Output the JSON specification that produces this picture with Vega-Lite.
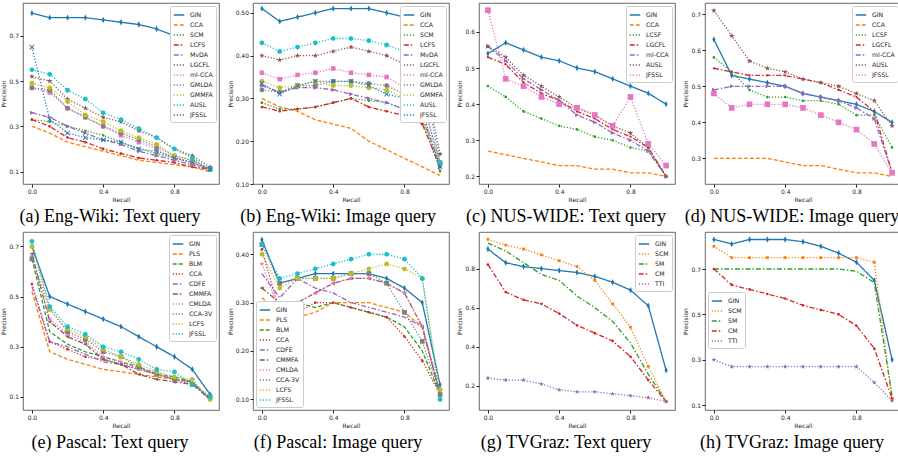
{
"$schema":"https://vega.github.io/schema/vega-lite/v6.json",
"padding":{"left":0,"right":2,"top":2,"bottom":2},
"background":"white",
"columns":4,
"spacing":{"row":5,"column":6},
"resolve":{"scale":{"x":"independent","y":"independent","color":"independent","strokeDash":"independent","shape":"independent","fill":"independent"},"legend":{"color":"independent","strokeDash":"independent"}},
"datasets":{
"a":[
{"s":"GIN","r":0,"p":0.80},{"s":"GIN","r":0.1,"p":0.78},{"s":"GIN","r":0.2,"p":0.78},{"s":"GIN","r":0.3,"p":0.78},{"s":"GIN","r":0.4,"p":0.77},{"s":"GIN","r":0.5,"p":0.76},{"s":"GIN","r":0.6,"p":0.75},{"s":"GIN","r":0.7,"p":0.73},{"s":"GIN","r":0.8,"p":0.70},{"s":"GIN","r":0.9,"p":0.65},{"s":"GIN","r":1,"p":0.38},
{"s":"CCA","r":0,"p":0.30},{"s":"CCA","r":0.1,"p":0.27},{"s":"CCA","r":0.2,"p":0.23},{"s":"CCA","r":0.3,"p":0.21},{"s":"CCA","r":0.4,"p":0.19},{"s":"CCA","r":0.5,"p":0.17},{"s":"CCA","r":0.6,"p":0.15},{"s":"CCA","r":0.7,"p":0.14},{"s":"CCA","r":0.8,"p":0.13},{"s":"CCA","r":0.9,"p":0.12},{"s":"CCA","r":1,"p":0.10},
{"s":"SCM","r":0,"p":0.33},{"s":"SCM","r":0.1,"p":0.32},{"s":"SCM","r":0.2,"p":0.30},{"s":"SCM","r":0.3,"p":0.28},{"s":"SCM","r":0.4,"p":0.26},{"s":"SCM","r":0.5,"p":0.23},{"s":"SCM","r":0.6,"p":0.20},{"s":"SCM","r":0.7,"p":0.18},{"s":"SCM","r":0.8,"p":0.16},{"s":"SCM","r":0.9,"p":0.14},{"s":"SCM","r":1,"p":0.11},
{"s":"LCFS","r":0,"p":0.33},{"s":"LCFS","r":0.1,"p":0.30},{"s":"LCFS","r":0.2,"p":0.25},{"s":"LCFS","r":0.3,"p":0.23},{"s":"LCFS","r":0.4,"p":0.20},{"s":"LCFS","r":0.5,"p":0.18},{"s":"LCFS","r":0.6,"p":0.16},{"s":"LCFS","r":0.7,"p":0.15},{"s":"LCFS","r":0.8,"p":0.14},{"s":"LCFS","r":0.9,"p":0.12},{"s":"LCFS","r":1,"p":0.11},
{"s":"MvDA","r":0,"p":0.36},{"s":"MvDA","r":0.1,"p":0.34},{"s":"MvDA","r":0.2,"p":0.30},{"s":"MvDA","r":0.3,"p":0.27},{"s":"MvDA","r":0.4,"p":0.24},{"s":"MvDA","r":0.5,"p":0.22},{"s":"MvDA","r":0.6,"p":0.19},{"s":"MvDA","r":0.7,"p":0.17},{"s":"MvDA","r":0.8,"p":0.15},{"s":"MvDA","r":0.9,"p":0.13},{"s":"MvDA","r":1,"p":0.11},
{"s":"LGCFL","r":0,"p":0.52},{"s":"LGCFL","r":0.1,"p":0.50},{"s":"LGCFL","r":0.2,"p":0.42},{"s":"LGCFL","r":0.3,"p":0.38},{"s":"LGCFL","r":0.4,"p":0.34},{"s":"LGCFL","r":0.5,"p":0.32},{"s":"LGCFL","r":0.6,"p":0.28},{"s":"LGCFL","r":0.7,"p":0.25},{"s":"LGCFL","r":0.8,"p":0.20},{"s":"LGCFL","r":0.9,"p":0.17},{"s":"LGCFL","r":1,"p":0.12},
{"s":"ml-CCA","r":0,"p":0.47},{"s":"ml-CCA","r":0.1,"p":0.45},{"s":"ml-CCA","r":0.2,"p":0.38},{"s":"ml-CCA","r":0.3,"p":0.34},{"s":"ml-CCA","r":0.4,"p":0.30},{"s":"ml-CCA","r":0.5,"p":0.26},{"s":"ml-CCA","r":0.6,"p":0.23},{"s":"ml-CCA","r":0.7,"p":0.20},{"s":"ml-CCA","r":0.8,"p":0.16},{"s":"ml-CCA","r":0.9,"p":0.14},{"s":"ml-CCA","r":1,"p":0.11},
{"s":"GMLDA","r":0,"p":0.47},{"s":"GMLDA","r":0.1,"p":0.46},{"s":"GMLDA","r":0.2,"p":0.38},{"s":"GMLDA","r":0.3,"p":0.34},{"s":"GMLDA","r":0.4,"p":0.30},{"s":"GMLDA","r":0.5,"p":0.27},{"s":"GMLDA","r":0.6,"p":0.24},{"s":"GMLDA","r":0.7,"p":0.21},{"s":"GMLDA","r":0.8,"p":0.17},{"s":"GMLDA","r":0.9,"p":0.15},{"s":"GMLDA","r":1,"p":0.11},
{"s":"GMMFA","r":0,"p":0.49},{"s":"GMMFA","r":0.1,"p":0.47},{"s":"GMMFA","r":0.2,"p":0.41},{"s":"GMMFA","r":0.3,"p":0.35},{"s":"GMMFA","r":0.4,"p":0.32},{"s":"GMMFA","r":0.5,"p":0.28},{"s":"GMMFA","r":0.6,"p":0.25},{"s":"GMMFA","r":0.7,"p":0.22},{"s":"GMMFA","r":0.8,"p":0.17},{"s":"GMMFA","r":0.9,"p":0.15},{"s":"GMMFA","r":1,"p":0.11},
{"s":"AUSL","r":0,"p":0.55},{"s":"AUSL","r":0.1,"p":0.53},{"s":"AUSL","r":0.2,"p":0.46},{"s":"AUSL","r":0.3,"p":0.42},{"s":"AUSL","r":0.4,"p":0.36},{"s":"AUSL","r":0.5,"p":0.33},{"s":"AUSL","r":0.6,"p":0.29},{"s":"AUSL","r":0.7,"p":0.25},{"s":"AUSL","r":0.8,"p":0.20},{"s":"AUSL","r":0.9,"p":0.16},{"s":"AUSL","r":1,"p":0.11},
{"s":"JFSSL","r":0,"p":0.65},{"s":"JFSSL","r":0.1,"p":0.33},{"s":"JFSSL","r":0.2,"p":0.27},{"s":"JFSSL","r":0.3,"p":0.25},{"s":"JFSSL","r":0.4,"p":0.24},{"s":"JFSSL","r":0.5,"p":0.23},{"s":"JFSSL","r":0.6,"p":0.20},{"s":"JFSSL","r":0.7,"p":0.19},{"s":"JFSSL","r":0.8,"p":0.16},{"s":"JFSSL","r":0.9,"p":0.14},{"s":"JFSSL","r":1,"p":0.11}
],
"b":[
{"s":"GIN","r":0,"p":0.51},{"s":"GIN","r":0.1,"p":0.48},{"s":"GIN","r":0.2,"p":0.49},{"s":"GIN","r":0.3,"p":0.50},{"s":"GIN","r":0.4,"p":0.51},{"s":"GIN","r":0.5,"p":0.51},{"s":"GIN","r":0.6,"p":0.51},{"s":"GIN","r":0.7,"p":0.50},{"s":"GIN","r":0.8,"p":0.49},{"s":"GIN","r":0.9,"p":0.47},{"s":"GIN","r":1,"p":0.33},
{"s":"CCA","r":0,"p":0.30},{"s":"CCA","r":0.1,"p":0.28},{"s":"CCA","r":0.2,"p":0.27},{"s":"CCA","r":0.3,"p":0.25},{"s":"CCA","r":0.4,"p":0.24},{"s":"CCA","r":0.5,"p":0.23},{"s":"CCA","r":0.6,"p":0.20},{"s":"CCA","r":0.7,"p":0.18},{"s":"CCA","r":0.8,"p":0.16},{"s":"CCA","r":0.9,"p":0.14},{"s":"CCA","r":1,"p":0.12},
{"s":"SCM","r":0,"p":0.29},{"s":"SCM","r":0.1,"p":0.275},{"s":"SCM","r":0.2,"p":0.275},{"s":"SCM","r":0.3,"p":0.28},{"s":"SCM","r":0.4,"p":0.29},{"s":"SCM","r":0.5,"p":0.30},{"s":"SCM","r":0.6,"p":0.295},{"s":"SCM","r":0.7,"p":0.29},{"s":"SCM","r":0.8,"p":0.275},{"s":"SCM","r":0.9,"p":0.25},{"s":"SCM","r":1,"p":0.13},
{"s":"LCFS","r":0,"p":0.28},{"s":"LCFS","r":0.1,"p":0.27},{"s":"LCFS","r":0.2,"p":0.275},{"s":"LCFS","r":0.3,"p":0.28},{"s":"LCFS","r":0.4,"p":0.29},{"s":"LCFS","r":0.5,"p":0.30},{"s":"LCFS","r":0.6,"p":0.28},{"s":"LCFS","r":0.7,"p":0.27},{"s":"LCFS","r":0.8,"p":0.26},{"s":"LCFS","r":0.9,"p":0.24},{"s":"LCFS","r":1,"p":0.14},
{"s":"MvDA","r":0,"p":0.33},{"s":"MvDA","r":0.1,"p":0.315},{"s":"MvDA","r":0.2,"p":0.325},{"s":"MvDA","r":0.3,"p":0.325},{"s":"MvDA","r":0.4,"p":0.32},{"s":"MvDA","r":0.5,"p":0.31},{"s":"MvDA","r":0.6,"p":0.30},{"s":"MvDA","r":0.7,"p":0.29},{"s":"MvDA","r":0.8,"p":0.275},{"s":"MvDA","r":0.9,"p":0.26},{"s":"MvDA","r":1,"p":0.14},
{"s":"LGCFL","r":0,"p":0.40},{"s":"LGCFL","r":0.1,"p":0.39},{"s":"LGCFL","r":0.2,"p":0.40},{"s":"LGCFL","r":0.3,"p":0.40},{"s":"LGCFL","r":0.4,"p":0.41},{"s":"LGCFL","r":0.5,"p":0.42},{"s":"LGCFL","r":0.6,"p":0.41},{"s":"LGCFL","r":0.7,"p":0.40},{"s":"LGCFL","r":0.8,"p":0.38},{"s":"LGCFL","r":0.9,"p":0.37},{"s":"LGCFL","r":1,"p":0.17},
{"s":"ml-CCA","r":0,"p":0.36},{"s":"ml-CCA","r":0.1,"p":0.345},{"s":"ml-CCA","r":0.2,"p":0.355},{"s":"ml-CCA","r":0.3,"p":0.36},{"s":"ml-CCA","r":0.4,"p":0.37},{"s":"ml-CCA","r":0.5,"p":0.36},{"s":"ml-CCA","r":0.6,"p":0.355},{"s":"ml-CCA","r":0.7,"p":0.35},{"s":"ml-CCA","r":0.8,"p":0.325},{"s":"ml-CCA","r":0.9,"p":0.30},{"s":"ml-CCA","r":1,"p":0.15},
{"s":"GMLDA","r":0,"p":0.32},{"s":"GMLDA","r":0.1,"p":0.315},{"s":"GMLDA","r":0.2,"p":0.33},{"s":"GMLDA","r":0.3,"p":0.33},{"s":"GMLDA","r":0.4,"p":0.34},{"s":"GMLDA","r":0.5,"p":0.34},{"s":"GMLDA","r":0.6,"p":0.335},{"s":"GMLDA","r":0.7,"p":0.33},{"s":"GMLDA","r":0.8,"p":0.31},{"s":"GMLDA","r":0.9,"p":0.29},{"s":"GMLDA","r":1,"p":0.15},
{"s":"GMMFA","r":0,"p":0.34},{"s":"GMMFA","r":0.1,"p":0.325},{"s":"GMMFA","r":0.2,"p":0.33},{"s":"GMMFA","r":0.3,"p":0.34},{"s":"GMMFA","r":0.4,"p":0.33},{"s":"GMMFA","r":0.5,"p":0.33},{"s":"GMMFA","r":0.6,"p":0.325},{"s":"GMMFA","r":0.7,"p":0.32},{"s":"GMMFA","r":0.8,"p":0.30},{"s":"GMMFA","r":0.9,"p":0.25},{"s":"GMMFA","r":1,"p":0.15},
{"s":"AUSL","r":0,"p":0.43},{"s":"AUSL","r":0.1,"p":0.41},{"s":"AUSL","r":0.2,"p":0.42},{"s":"AUSL","r":0.3,"p":0.43},{"s":"AUSL","r":0.4,"p":0.44},{"s":"AUSL","r":0.5,"p":0.44},{"s":"AUSL","r":0.6,"p":0.435},{"s":"AUSL","r":0.7,"p":0.425},{"s":"AUSL","r":0.8,"p":0.41},{"s":"AUSL","r":0.9,"p":0.36},{"s":"AUSL","r":1,"p":0.15},
{"s":"JFSSL","r":0,"p":0.335},{"s":"JFSSL","r":0.1,"p":0.31},{"s":"JFSSL","r":0.2,"p":0.33},{"s":"JFSSL","r":0.3,"p":0.34},{"s":"JFSSL","r":0.4,"p":0.34},{"s":"JFSSL","r":0.5,"p":0.34},{"s":"JFSSL","r":0.6,"p":0.33},{"s":"JFSSL","r":0.7,"p":0.31},{"s":"JFSSL","r":0.8,"p":0.30},{"s":"JFSSL","r":0.9,"p":0.27},{"s":"JFSSL","r":1,"p":0.14}
],
"c":[
{"s":"GIN","r":0,"p":0.54},{"s":"GIN","r":0.1,"p":0.57},{"s":"GIN","r":0.2,"p":0.55},{"s":"GIN","r":0.3,"p":0.53},{"s":"GIN","r":0.4,"p":0.52},{"s":"GIN","r":0.5,"p":0.50},{"s":"GIN","r":0.6,"p":0.49},{"s":"GIN","r":0.7,"p":0.47},{"s":"GIN","r":0.8,"p":0.45},{"s":"GIN","r":0.9,"p":0.43},{"s":"GIN","r":1,"p":0.40},
{"s":"CCA","r":0,"p":0.27},{"s":"CCA","r":0.1,"p":0.26},{"s":"CCA","r":0.2,"p":0.25},{"s":"CCA","r":0.3,"p":0.24},{"s":"CCA","r":0.4,"p":0.23},{"s":"CCA","r":0.5,"p":0.23},{"s":"CCA","r":0.6,"p":0.22},{"s":"CCA","r":0.7,"p":0.22},{"s":"CCA","r":0.8,"p":0.21},{"s":"CCA","r":0.9,"p":0.21},{"s":"CCA","r":1,"p":0.20},
{"s":"LCSF","r":0,"p":0.45},{"s":"LCSF","r":0.1,"p":0.42},{"s":"LCSF","r":0.2,"p":0.38},{"s":"LCSF","r":0.3,"p":0.36},{"s":"LCSF","r":0.4,"p":0.34},{"s":"LCSF","r":0.5,"p":0.33},{"s":"LCSF","r":0.6,"p":0.31},{"s":"LCSF","r":0.7,"p":0.30},{"s":"LCSF","r":0.8,"p":0.28},{"s":"LCSF","r":0.9,"p":0.27},{"s":"LCSF","r":1,"p":0.20},
{"s":"LGCFL","r":0,"p":0.53},{"s":"LGCFL","r":0.1,"p":0.51},{"s":"LGCFL","r":0.2,"p":0.46},{"s":"LGCFL","r":0.3,"p":0.43},{"s":"LGCFL","r":0.4,"p":0.41},{"s":"LGCFL","r":0.5,"p":0.38},{"s":"LGCFL","r":0.6,"p":0.36},{"s":"LGCFL","r":0.7,"p":0.33},{"s":"LGCFL","r":0.8,"p":0.31},{"s":"LGCFL","r":0.9,"p":0.28},{"s":"LGCFL","r":1,"p":0.20},
{"s":"ml-CCA","r":0,"p":0.56},{"s":"ml-CCA","r":0.1,"p":0.52},{"s":"ml-CCA","r":0.2,"p":0.47},{"s":"ml-CCA","r":0.3,"p":0.44},{"s":"ml-CCA","r":0.4,"p":0.41},{"s":"ml-CCA","r":0.5,"p":0.37},{"s":"ml-CCA","r":0.6,"p":0.35},{"s":"ml-CCA","r":0.7,"p":0.32},{"s":"ml-CCA","r":0.8,"p":0.30},{"s":"ml-CCA","r":0.9,"p":0.27},{"s":"ml-CCA","r":1,"p":0.20},
{"s":"AUSL","r":0,"p":0.56},{"s":"AUSL","r":0.1,"p":0.53},{"s":"AUSL","r":0.2,"p":0.48},{"s":"AUSL","r":0.3,"p":0.45},{"s":"AUSL","r":0.4,"p":0.42},{"s":"AUSL","r":0.5,"p":0.39},{"s":"AUSL","r":0.6,"p":0.37},{"s":"AUSL","r":0.7,"p":0.34},{"s":"AUSL","r":0.8,"p":0.32},{"s":"AUSL","r":0.9,"p":0.28},{"s":"AUSL","r":1,"p":0.20},
{"s":"JFSSL","r":0,"p":0.66},{"s":"JFSSL","r":0.1,"p":0.47},{"s":"JFSSL","r":0.2,"p":0.45},{"s":"JFSSL","r":0.3,"p":0.42},{"s":"JFSSL","r":0.4,"p":0.40},{"s":"JFSSL","r":0.5,"p":0.39},{"s":"JFSSL","r":0.6,"p":0.37},{"s":"JFSSL","r":0.7,"p":0.34},{"s":"JFSSL","r":0.8,"p":0.42},{"s":"JFSSL","r":0.9,"p":0.29},{"s":"JFSSL","r":1,"p":0.23}
],
"d":[
{"s":"GIN","r":0,"p":0.63},{"s":"GIN","r":0.1,"p":0.53},{"s":"GIN","r":0.2,"p":0.52},{"s":"GIN","r":0.3,"p":0.51},{"s":"GIN","r":0.4,"p":0.50},{"s":"GIN","r":0.5,"p":0.48},{"s":"GIN","r":0.6,"p":0.47},{"s":"GIN","r":0.7,"p":0.46},{"s":"GIN","r":0.8,"p":0.45},{"s":"GIN","r":0.9,"p":0.43},{"s":"GIN","r":1,"p":0.40},
{"s":"CCA","r":0,"p":0.30},{"s":"CCA","r":0.1,"p":0.30},{"s":"CCA","r":0.2,"p":0.30},{"s":"CCA","r":0.3,"p":0.30},{"s":"CCA","r":0.4,"p":0.29},{"s":"CCA","r":0.5,"p":0.28},{"s":"CCA","r":0.6,"p":0.28},{"s":"CCA","r":0.7,"p":0.27},{"s":"CCA","r":0.8,"p":0.26},{"s":"CCA","r":0.9,"p":0.26},{"s":"CCA","r":1,"p":0.25},
{"s":"LCSF","r":0,"p":0.58},{"s":"LCSF","r":0.1,"p":0.54},{"s":"LCSF","r":0.2,"p":0.49},{"s":"LCSF","r":0.3,"p":0.47},{"s":"LCSF","r":0.4,"p":0.47},{"s":"LCSF","r":0.5,"p":0.46},{"s":"LCSF","r":0.6,"p":0.46},{"s":"LCSF","r":0.7,"p":0.45},{"s":"LCSF","r":0.8,"p":0.42},{"s":"LCSF","r":0.9,"p":0.42},{"s":"LCSF","r":1,"p":0.33},
{"s":"LGCFL","r":0,"p":0.55},{"s":"LGCFL","r":0.1,"p":0.54},{"s":"LGCFL","r":0.2,"p":0.53},{"s":"LGCFL","r":0.3,"p":0.53},{"s":"LGCFL","r":0.4,"p":0.53},{"s":"LGCFL","r":0.5,"p":0.52},{"s":"LGCFL","r":0.6,"p":0.51},{"s":"LGCFL","r":0.7,"p":0.49},{"s":"LGCFL","r":0.8,"p":0.47},{"s":"LGCFL","r":0.9,"p":0.43},{"s":"LGCFL","r":1,"p":0.26},
{"s":"ml-CCA","r":0,"p":0.49},{"s":"ml-CCA","r":0.1,"p":0.50},{"s":"ml-CCA","r":0.2,"p":0.50},{"s":"ml-CCA","r":0.3,"p":0.50},{"s":"ml-CCA","r":0.4,"p":0.50},{"s":"ml-CCA","r":0.5,"p":0.48},{"s":"ml-CCA","r":0.6,"p":0.47},{"s":"ml-CCA","r":0.7,"p":0.46},{"s":"ml-CCA","r":0.8,"p":0.44},{"s":"ml-CCA","r":0.9,"p":0.41},{"s":"ml-CCA","r":1,"p":0.26},
{"s":"AUSL","r":0,"p":0.71},{"s":"AUSL","r":0.1,"p":0.64},{"s":"AUSL","r":0.2,"p":0.57},{"s":"AUSL","r":0.3,"p":0.55},{"s":"AUSL","r":0.4,"p":0.54},{"s":"AUSL","r":0.5,"p":0.52},{"s":"AUSL","r":0.6,"p":0.51},{"s":"AUSL","r":0.7,"p":0.50},{"s":"AUSL","r":0.8,"p":0.48},{"s":"AUSL","r":0.9,"p":0.46},{"s":"AUSL","r":1,"p":0.39},
{"s":"JFSSL","r":0,"p":0.48},{"s":"JFSSL","r":0.1,"p":0.44},{"s":"JFSSL","r":0.2,"p":0.45},{"s":"JFSSL","r":0.3,"p":0.45},{"s":"JFSSL","r":0.4,"p":0.45},{"s":"JFSSL","r":0.5,"p":0.44},{"s":"JFSSL","r":0.6,"p":0.42},{"s":"JFSSL","r":0.7,"p":0.40},{"s":"JFSSL","r":0.8,"p":0.38},{"s":"JFSSL","r":0.9,"p":0.34},{"s":"JFSSL","r":1,"p":0.26}
],
"e":[
{"s":"GIN","r":0,"p":0.70},{"s":"GIN","r":0.1,"p":0.50},{"s":"GIN","r":0.2,"p":0.47},{"s":"GIN","r":0.3,"p":0.44},{"s":"GIN","r":0.4,"p":0.41},{"s":"GIN","r":0.5,"p":0.38},{"s":"GIN","r":0.6,"p":0.34},{"s":"GIN","r":0.7,"p":0.30},{"s":"GIN","r":0.8,"p":0.26},{"s":"GIN","r":0.9,"p":0.21},{"s":"GIN","r":1,"p":0.11},
{"s":"PLS","r":0,"p":0.52},{"s":"PLS","r":0.1,"p":0.28},{"s":"PLS","r":0.2,"p":0.25},{"s":"PLS","r":0.3,"p":0.23},{"s":"PLS","r":0.4,"p":0.21},{"s":"PLS","r":0.5,"p":0.20},{"s":"PLS","r":0.6,"p":0.19},{"s":"PLS","r":0.7,"p":0.18},{"s":"PLS","r":0.8,"p":0.17},{"s":"PLS","r":0.9,"p":0.16},{"s":"PLS","r":1,"p":0.09},
{"s":"BLM","r":0,"p":0.65},{"s":"BLM","r":0.1,"p":0.36},{"s":"BLM","r":0.2,"p":0.31},{"s":"BLM","r":0.3,"p":0.28},{"s":"BLM","r":0.4,"p":0.26},{"s":"BLM","r":0.5,"p":0.24},{"s":"BLM","r":0.6,"p":0.22},{"s":"BLM","r":0.7,"p":0.19},{"s":"BLM","r":0.8,"p":0.18},{"s":"BLM","r":0.9,"p":0.16},{"s":"BLM","r":1,"p":0.09},
{"s":"CCA","r":0,"p":0.55},{"s":"CCA","r":0.1,"p":0.32},{"s":"CCA","r":0.2,"p":0.29},{"s":"CCA","r":0.3,"p":0.26},{"s":"CCA","r":0.4,"p":0.25},{"s":"CCA","r":0.5,"p":0.23},{"s":"CCA","r":0.6,"p":0.21},{"s":"CCA","r":0.7,"p":0.19},{"s":"CCA","r":0.8,"p":0.17},{"s":"CCA","r":0.9,"p":0.15},{"s":"CCA","r":1,"p":0.10},
{"s":"CDFE","r":0,"p":0.54},{"s":"CDFE","r":0.1,"p":0.32},{"s":"CDFE","r":0.2,"p":0.30},{"s":"CDFE","r":0.3,"p":0.27},{"s":"CDFE","r":0.4,"p":0.24},{"s":"CDFE","r":0.5,"p":0.23},{"s":"CDFE","r":0.6,"p":0.21},{"s":"CDFE","r":0.7,"p":0.19},{"s":"CDFE","r":0.8,"p":0.17},{"s":"CDFE","r":0.9,"p":0.16},{"s":"CDFE","r":1,"p":0.09},
{"s":"CMMFA","r":0,"p":0.67},{"s":"CMMFA","r":0.1,"p":0.40},{"s":"CMMFA","r":0.2,"p":0.34},{"s":"CMMFA","r":0.3,"p":0.31},{"s":"CMMFA","r":0.4,"p":0.25},{"s":"CMMFA","r":0.5,"p":0.23},{"s":"CMMFA","r":0.6,"p":0.19},{"s":"CMMFA","r":0.7,"p":0.17},{"s":"CMMFA","r":0.8,"p":0.16},{"s":"CMMFA","r":0.9,"p":0.15},{"s":"CMMFA","r":1,"p":0.09},
{"s":"CMLDA","r":0,"p":0.66},{"s":"CMLDA","r":0.1,"p":0.41},{"s":"CMLDA","r":0.2,"p":0.35},{"s":"CMLDA","r":0.3,"p":0.32},{"s":"CMLDA","r":0.4,"p":0.26},{"s":"CMLDA","r":0.5,"p":0.24},{"s":"CMLDA","r":0.6,"p":0.21},{"s":"CMLDA","r":0.7,"p":0.20},{"s":"CMLDA","r":0.8,"p":0.17},{"s":"CMLDA","r":0.9,"p":0.15},{"s":"CMLDA","r":1,"p":0.10},
{"s":"CCA-3V","r":0,"p":0.65},{"s":"CCA-3V","r":0.1,"p":0.45},{"s":"CCA-3V","r":0.2,"p":0.36},{"s":"CCA-3V","r":0.3,"p":0.33},{"s":"CCA-3V","r":0.4,"p":0.28},{"s":"CCA-3V","r":0.5,"p":0.26},{"s":"CCA-3V","r":0.6,"p":0.22},{"s":"CCA-3V","r":0.7,"p":0.19},{"s":"CCA-3V","r":0.8,"p":0.17},{"s":"CCA-3V","r":0.9,"p":0.15},{"s":"CCA-3V","r":1,"p":0.10},
{"s":"LCFS","r":0,"p":0.70},{"s":"LCFS","r":0.1,"p":0.45},{"s":"LCFS","r":0.2,"p":0.37},{"s":"LCFS","r":0.3,"p":0.34},{"s":"LCFS","r":0.4,"p":0.29},{"s":"LCFS","r":0.5,"p":0.26},{"s":"LCFS","r":0.6,"p":0.23},{"s":"LCFS","r":0.7,"p":0.20},{"s":"LCFS","r":0.8,"p":0.18},{"s":"LCFS","r":0.9,"p":0.17},{"s":"LCFS","r":1,"p":0.09},
{"s":"JFSSL","r":0,"p":0.72},{"s":"JFSSL","r":0.1,"p":0.46},{"s":"JFSSL","r":0.2,"p":0.38},{"s":"JFSSL","r":0.3,"p":0.35},{"s":"JFSSL","r":0.4,"p":0.30},{"s":"JFSSL","r":0.5,"p":0.28},{"s":"JFSSL","r":0.6,"p":0.25},{"s":"JFSSL","r":0.7,"p":0.21},{"s":"JFSSL","r":0.8,"p":0.20},{"s":"JFSSL","r":0.9,"p":0.15},{"s":"JFSSL","r":1,"p":0.10}
],
"f":[
{"s":"GIN","r":0,"p":0.43},{"s":"GIN","r":0.1,"p":0.34},{"s":"GIN","r":0.2,"p":0.35},{"s":"GIN","r":0.3,"p":0.36},{"s":"GIN","r":0.4,"p":0.36},{"s":"GIN","r":0.5,"p":0.36},{"s":"GIN","r":0.6,"p":0.36},{"s":"GIN","r":0.7,"p":0.35},{"s":"GIN","r":0.8,"p":0.33},{"s":"GIN","r":0.9,"p":0.30},{"s":"GIN","r":1,"p":0.13},
{"s":"PLS","r":0,"p":0.31},{"s":"PLS","r":0.1,"p":0.28},{"s":"PLS","r":0.2,"p":0.27},{"s":"PLS","r":0.3,"p":0.28},{"s":"PLS","r":0.4,"p":0.30},{"s":"PLS","r":0.5,"p":0.30},{"s":"PLS","r":0.6,"p":0.30},{"s":"PLS","r":0.7,"p":0.29},{"s":"PLS","r":0.8,"p":0.28},{"s":"PLS","r":0.9,"p":0.25},{"s":"PLS","r":1,"p":0.11},
{"s":"BLM","r":0,"p":0.25},{"s":"BLM","r":0.1,"p":0.26},{"s":"BLM","r":0.2,"p":0.30},{"s":"BLM","r":0.3,"p":0.29},{"s":"BLM","r":0.4,"p":0.30},{"s":"BLM","r":0.5,"p":0.29},{"s":"BLM","r":0.6,"p":0.28},{"s":"BLM","r":0.7,"p":0.27},{"s":"BLM","r":0.8,"p":0.25},{"s":"BLM","r":0.9,"p":0.20},{"s":"BLM","r":1,"p":0.11},
{"s":"CCA","r":0,"p":0.41},{"s":"CCA","r":0.1,"p":0.28},{"s":"CCA","r":0.2,"p":0.28},{"s":"CCA","r":0.3,"p":0.30},{"s":"CCA","r":0.4,"p":0.30},{"s":"CCA","r":0.5,"p":0.29},{"s":"CCA","r":0.6,"p":0.28},{"s":"CCA","r":0.7,"p":0.27},{"s":"CCA","r":0.8,"p":0.23},{"s":"CCA","r":0.9,"p":0.18},{"s":"CCA","r":1,"p":0.11},
{"s":"CDFE","r":0,"p":0.36},{"s":"CDFE","r":0.1,"p":0.31},{"s":"CDFE","r":0.2,"p":0.35},{"s":"CDFE","r":0.3,"p":0.33},{"s":"CDFE","r":0.4,"p":0.32},{"s":"CDFE","r":0.5,"p":0.30},{"s":"CDFE","r":0.6,"p":0.29},{"s":"CDFE","r":0.7,"p":0.28},{"s":"CDFE","r":0.8,"p":0.27},{"s":"CDFE","r":0.9,"p":0.25},{"s":"CDFE","r":1,"p":0.11},
{"s":"CMMFA","r":0,"p":0.33},{"s":"CMMFA","r":0.1,"p":0.30},{"s":"CMMFA","r":0.2,"p":0.30},{"s":"CMMFA","r":0.3,"p":0.32},{"s":"CMMFA","r":0.4,"p":0.34},{"s":"CMMFA","r":0.5,"p":0.35},{"s":"CMMFA","r":0.6,"p":0.35},{"s":"CMMFA","r":0.7,"p":0.34},{"s":"CMMFA","r":0.8,"p":0.32},{"s":"CMMFA","r":0.9,"p":0.25},{"s":"CMMFA","r":1,"p":0.11},
{"s":"CMLDA","r":0,"p":0.38},{"s":"CMLDA","r":0.1,"p":0.28},{"s":"CMLDA","r":0.2,"p":0.30},{"s":"CMLDA","r":0.3,"p":0.32},{"s":"CMLDA","r":0.4,"p":0.34},{"s":"CMLDA","r":0.5,"p":0.35},{"s":"CMLDA","r":0.6,"p":0.35},{"s":"CMLDA","r":0.7,"p":0.34},{"s":"CMLDA","r":0.8,"p":0.32},{"s":"CMLDA","r":0.9,"p":0.25},{"s":"CMLDA","r":1,"p":0.12},
{"s":"CCA-3V","r":0,"p":0.42},{"s":"CCA-3V","r":0.1,"p":0.34},{"s":"CCA-3V","r":0.2,"p":0.35},{"s":"CCA-3V","r":0.3,"p":0.35},{"s":"CCA-3V","r":0.4,"p":0.35},{"s":"CCA-3V","r":0.5,"p":0.36},{"s":"CCA-3V","r":0.6,"p":0.36},{"s":"CCA-3V","r":0.7,"p":0.34},{"s":"CCA-3V","r":0.8,"p":0.28},{"s":"CCA-3V","r":0.9,"p":0.22},{"s":"CCA-3V","r":1,"p":0.11},
{"s":"LCFS","r":0,"p":0.40},{"s":"LCFS","r":0.1,"p":0.33},{"s":"LCFS","r":0.2,"p":0.35},{"s":"LCFS","r":0.3,"p":0.35},{"s":"LCFS","r":0.4,"p":0.35},{"s":"LCFS","r":0.5,"p":0.36},{"s":"LCFS","r":0.6,"p":0.37},{"s":"LCFS","r":0.7,"p":0.38},{"s":"LCFS","r":0.8,"p":0.37},{"s":"LCFS","r":0.9,"p":0.35},{"s":"LCFS","r":1,"p":0.12},
{"s":"JFSSL","r":0,"p":0.42},{"s":"JFSSL","r":0.1,"p":0.35},{"s":"JFSSL","r":0.2,"p":0.36},{"s":"JFSSL","r":0.3,"p":0.37},{"s":"JFSSL","r":0.4,"p":0.38},{"s":"JFSSL","r":0.5,"p":0.39},{"s":"JFSSL","r":0.6,"p":0.40},{"s":"JFSSL","r":0.7,"p":0.40},{"s":"JFSSL","r":0.8,"p":0.39},{"s":"JFSSL","r":0.9,"p":0.35},{"s":"JFSSL","r":1,"p":0.10}
],
"g":[
{"s":"GIN","r":0,"p":0.90},{"s":"GIN","r":0.1,"p":0.83},{"s":"GIN","r":0.2,"p":0.81},{"s":"GIN","r":0.3,"p":0.80},{"s":"GIN","r":0.4,"p":0.79},{"s":"GIN","r":0.5,"p":0.78},{"s":"GIN","r":0.6,"p":0.76},{"s":"GIN","r":0.7,"p":0.73},{"s":"GIN","r":0.8,"p":0.69},{"s":"GIN","r":0.9,"p":0.61},{"s":"GIN","r":1,"p":0.28},
{"s":"SCM","r":0,"p":0.95},{"s":"SCM","r":0.1,"p":0.92},{"s":"SCM","r":0.2,"p":0.90},{"s":"SCM","r":0.3,"p":0.87},{"s":"SCM","r":0.4,"p":0.84},{"s":"SCM","r":0.5,"p":0.81},{"s":"SCM","r":0.6,"p":0.74},{"s":"SCM","r":0.7,"p":0.62},{"s":"SCM","r":0.8,"p":0.50},{"s":"SCM","r":0.9,"p":0.30},{"s":"SCM","r":1,"p":0.12},
{"s":"SM","r":0,"p":0.93},{"s":"SM","r":0.1,"p":0.89},{"s":"SM","r":0.2,"p":0.83},{"s":"SM","r":0.3,"p":0.77},{"s":"SM","r":0.4,"p":0.74},{"s":"SM","r":0.5,"p":0.66},{"s":"SM","r":0.6,"p":0.60},{"s":"SM","r":0.7,"p":0.53},{"s":"SM","r":0.8,"p":0.42},{"s":"SM","r":0.9,"p":0.26},{"s":"SM","r":1,"p":0.12},
{"s":"CM","r":0,"p":0.82},{"s":"CM","r":0.1,"p":0.68},{"s":"CM","r":0.2,"p":0.64},{"s":"CM","r":0.3,"p":0.62},{"s":"CM","r":0.4,"p":0.57},{"s":"CM","r":0.5,"p":0.51},{"s":"CM","r":0.6,"p":0.47},{"s":"CM","r":0.7,"p":0.43},{"s":"CM","r":0.8,"p":0.35},{"s":"CM","r":0.9,"p":0.23},{"s":"CM","r":1,"p":0.12},
{"s":"TTI","r":0,"p":0.24},{"s":"TTI","r":0.1,"p":0.23},{"s":"TTI","r":0.2,"p":0.23},{"s":"TTI","r":0.3,"p":0.21},{"s":"TTI","r":0.4,"p":0.18},{"s":"TTI","r":0.5,"p":0.17},{"s":"TTI","r":0.6,"p":0.17},{"s":"TTI","r":0.7,"p":0.16},{"s":"TTI","r":0.8,"p":0.15},{"s":"TTI","r":0.9,"p":0.14},{"s":"TTI","r":1,"p":0.12}
],
"h":[
{"s":"GIN","r":0,"p":0.83},{"s":"GIN","r":0.1,"p":0.81},{"s":"GIN","r":0.2,"p":0.83},{"s":"GIN","r":0.3,"p":0.83},{"s":"GIN","r":0.4,"p":0.83},{"s":"GIN","r":0.5,"p":0.82},{"s":"GIN","r":0.6,"p":0.80},{"s":"GIN","r":0.7,"p":0.77},{"s":"GIN","r":0.8,"p":0.73},{"s":"GIN","r":0.9,"p":0.65},{"s":"GIN","r":1,"p":0.30},
{"s":"SCM","r":0,"p":0.80},{"s":"SCM","r":0.1,"p":0.75},{"s":"SCM","r":0.2,"p":0.75},{"s":"SCM","r":0.3,"p":0.75},{"s":"SCM","r":0.4,"p":0.75},{"s":"SCM","r":0.5,"p":0.75},{"s":"SCM","r":0.6,"p":0.75},{"s":"SCM","r":0.7,"p":0.75},{"s":"SCM","r":0.8,"p":0.75},{"s":"SCM","r":0.9,"p":0.73},{"s":"SCM","r":1,"p":0.13},
{"s":"SM","r":0,"p":0.70},{"s":"SM","r":0.1,"p":0.70},{"s":"SM","r":0.2,"p":0.70},{"s":"SM","r":0.3,"p":0.70},{"s":"SM","r":0.4,"p":0.70},{"s":"SM","r":0.5,"p":0.70},{"s":"SM","r":0.6,"p":0.70},{"s":"SM","r":0.7,"p":0.70},{"s":"SM","r":0.8,"p":0.69},{"s":"SM","r":0.9,"p":0.64},{"s":"SM","r":1,"p":0.14},
{"s":"CM","r":0,"p":0.70},{"s":"CM","r":0.1,"p":0.63},{"s":"CM","r":0.2,"p":0.61},{"s":"CM","r":0.3,"p":0.59},{"s":"CM","r":0.4,"p":0.57},{"s":"CM","r":0.5,"p":0.54},{"s":"CM","r":0.6,"p":0.52},{"s":"CM","r":0.7,"p":0.50},{"s":"CM","r":0.8,"p":0.45},{"s":"CM","r":0.9,"p":0.35},{"s":"CM","r":1,"p":0.13},
{"s":"TTI","r":0,"p":0.30},{"s":"TTI","r":0.1,"p":0.27},{"s":"TTI","r":0.2,"p":0.27},{"s":"TTI","r":0.3,"p":0.27},{"s":"TTI","r":0.4,"p":0.27},{"s":"TTI","r":0.5,"p":0.27},{"s":"TTI","r":0.6,"p":0.27},{"s":"TTI","r":0.7,"p":0.27},{"s":"TTI","r":0.8,"p":0.27},{"s":"TTI","r":0.9,"p":0.20},{"s":"TTI","r":1,"p":0.12}
]
},
"concat":[
{"data":{"name":"a"},"width":196,"height":181,"title":"(a) Eng-Wiki: Text query",
"layer":[
{"mark":{"type":"line","strokeWidth":1.3},"encoding":{
"x":{"field":"r","type":"quantitative","scale":{"domain":[-0.05,1.05],"nice":false,"zero":false},"axis":{"values":[0,0.2,0.4,0.6,0.8,1],"format":".1f","title":"Recall"}},
"y":{"field":"p","type":"quantitative","scale":{"domain":[0.045,0.845],"nice":false,"zero":false},"axis":{"values":[0.1,0.2,0.3,0.4,0.5,0.6,0.7,0.8],"format":".1f","title":"Precision"}},
"color":{"field":"s","type":"nominal","scale":{"domain":["GIN","CCA","SCM","LCFS","MvDA","LGCFL","ml-CCA","GMLDA","GMMFA","AUSL","JFSSL"],"range":["#1f77b4","#ff7f0e","#2ca02c","#d62728","#9467bd","#8c564b","#e377c2","#7f7f7f","#bcbd22","#17becf","#1f77b4"]},"legend":{"title":null,"orient":"top-right"}},
"strokeDash":{"field":"s","type":"nominal","scale":{"domain":["GIN","CCA","SCM","LCFS","MvDA","LGCFL","ml-CCA","GMLDA","GMMFA","AUSL","JFSSL"],"range":[[1,0],[4,2],[1.2,1.8],[5,2,1.5,2],[5,2,1.5,2],[1.2,1.8],[1.2,1.8],[1.2,1.8],[1.2,1.8],[1.2,1.8],[1.2,1.8]]},"legend":{"title":null,"orient":"top-right"}}}},
{"mark":{"type":"point","filled":true,"opacity":1,"size":40,"strokeWidth":0},"encoding":{
"x":{"field":"r","type":"quantitative"},
"y":{"field":"p","type":"quantitative"},
"fill":{"field":"s","type":"nominal","scale":{"domain":["JFSSL","AUSL","GMMFA","GMLDA","ml-CCA","LGCFL","MvDA","LCFS","SCM","CCA","GIN"],"range":["#1f77b4","#17becf","#bcbd22","#7f7f7f","#e377c2","#8c564b","#9467bd","#d62728","#2ca02c","#ff7f0e","#1f77b4"]},"legend":null},
"shape":{"field":"s","type":"nominal","scale":{"domain":["JFSSL","AUSL","GMMFA","GMLDA","ml-CCA","LGCFL","MvDA","LCFS","SCM","CCA","GIN"],"range":["M-0.8,-0.6L-0.6,-0.8L0,-0.2L0.6,-0.8L0.8,-0.6L0.2,0L0.8,0.6L0.6,0.8L0,0.2L-0.6,0.8L-0.8,0.6L-0.2,0Z","M0,-0.82L0.71,-0.41L0.71,0.41L0,0.82L-0.71,0.41L-0.71,-0.41Z","M-0.78,0A0.78,0.78,0,1,1,0.78,0A0.78,0.78,0,1,1,-0.78,0Z","M0,-0.82L0.71,-0.41L0.71,0.41L0,0.82L-0.71,0.41L-0.71,-0.41Z","M-0.72,-0.72L0.72,-0.72L0.72,0.72L-0.72,0.72Z","M0,-0.9L0.21,-0.3L0.85,-0.28L0.34,0.11L0.53,0.73L0,0.36L-0.53,0.73L-0.34,0.11L-0.85,-0.28L-0.21,-0.3Z","M0.75,0L-0.6,0.65L-0.6,-0.65Z","M-0.42,0A0.42,0.42,0,1,1,0.42,0A0.42,0.42,0,1,1,-0.42,0Z","M-0.42,0A0.42,0.42,0,1,1,0.42,0A0.42,0.42,0,1,1,-0.42,0Z","M0,0L0.001,0Z","M0,-1L0.5,0L0,1L-0.5,0Z"]},"legend":null}}}
]},
{"data":{"name":"b"},"width":196,"height":181,"title":"(b) Eng-Wiki: Image query",
"layer":[
{"mark":{"type":"line","strokeWidth":1.3},"encoding":{
"x":{"field":"r","type":"quantitative","scale":{"domain":[-0.05,1.05],"nice":false,"zero":false},"axis":{"values":[0,0.2,0.4,0.6,0.8,1],"format":".1f","title":"Recall"}},
"y":{"field":"p","type":"quantitative","scale":{"domain":[0.1,0.523],"nice":false,"zero":false},"axis":{"values":[0.1,0.15,0.2,0.25,0.3,0.35,0.4,0.45,0.5],"format":".2f","title":"Precision"}},
"color":{"field":"s","type":"nominal","scale":{"domain":["GIN","CCA","SCM","LCFS","MvDA","LGCFL","ml-CCA","GMLDA","GMMFA","AUSL","JFSSL"],"range":["#1f77b4","#ff7f0e","#2ca02c","#d62728","#9467bd","#8c564b","#e377c2","#7f7f7f","#bcbd22","#17becf","#1f77b4"]},"legend":{"title":null,"orient":"top-right"}},
"strokeDash":{"field":"s","type":"nominal","scale":{"domain":["GIN","CCA","SCM","LCFS","MvDA","LGCFL","ml-CCA","GMLDA","GMMFA","AUSL","JFSSL"],"range":[[1,0],[4,2],[1.2,1.8],[5,2,1.5,2],[5,2,1.5,2],[1.2,1.8],[1.2,1.8],[1.2,1.8],[1.2,1.8],[1.2,1.8],[1.2,1.8]]},"legend":{"title":null,"orient":"top-right"}}}},
{"mark":{"type":"point","filled":true,"opacity":1,"size":40,"strokeWidth":0},"encoding":{
"x":{"field":"r","type":"quantitative"},
"y":{"field":"p","type":"quantitative"},
"fill":{"field":"s","type":"nominal","scale":{"domain":["JFSSL","AUSL","GMMFA","GMLDA","ml-CCA","LGCFL","MvDA","LCFS","SCM","CCA","GIN"],"range":["#1f77b4","#17becf","#bcbd22","#7f7f7f","#e377c2","#8c564b","#9467bd","#d62728","#2ca02c","#ff7f0e","#1f77b4"]},"legend":null},
"shape":{"field":"s","type":"nominal","scale":{"domain":["JFSSL","AUSL","GMMFA","GMLDA","ml-CCA","LGCFL","MvDA","LCFS","SCM","CCA","GIN"],"range":["M-0.8,-0.6L-0.6,-0.8L0,-0.2L0.6,-0.8L0.8,-0.6L0.2,0L0.8,0.6L0.6,0.8L0,0.2L-0.6,0.8L-0.8,0.6L-0.2,0Z","M0,-0.82L0.71,-0.41L0.71,0.41L0,0.82L-0.71,0.41L-0.71,-0.41Z","M-0.78,0A0.78,0.78,0,1,1,0.78,0A0.78,0.78,0,1,1,-0.78,0Z","M0,-0.82L0.71,-0.41L0.71,0.41L0,0.82L-0.71,0.41L-0.71,-0.41Z","M-0.72,-0.72L0.72,-0.72L0.72,0.72L-0.72,0.72Z","M0,-0.9L0.21,-0.3L0.85,-0.28L0.34,0.11L0.53,0.73L0,0.36L-0.53,0.73L-0.34,0.11L-0.85,-0.28L-0.21,-0.3Z","M0.75,0L-0.6,0.65L-0.6,-0.65Z","M-0.42,0A0.42,0.42,0,1,1,0.42,0A0.42,0.42,0,1,1,-0.42,0Z","M-0.42,0A0.42,0.42,0,1,1,0.42,0A0.42,0.42,0,1,1,-0.42,0Z","M0,0L0.001,0Z","M0,-1L0.5,0L0,1L-0.5,0Z"]},"legend":null}}}
]},
{"data":{"name":"c"},"width":196,"height":181,"title":"(c) NUS-WIDE: Text query",
"layer":[
{"mark":{"type":"line","strokeWidth":1.3},"encoding":{
"x":{"field":"r","type":"quantitative","scale":{"domain":[-0.05,1.05],"nice":false,"zero":false},"axis":{"values":[0,0.2,0.4,0.6,0.8,1],"format":".1f","title":"Recall"}},
"y":{"field":"p","type":"quantitative","scale":{"domain":[0.179,0.68],"nice":false,"zero":false},"axis":{"values":[0.2,0.3,0.4,0.5,0.6],"format":".1f","title":"Precision"}},
"color":{"field":"s","type":"nominal","scale":{"domain":["GIN","CCA","LCSF","LGCFL","ml-CCA","AUSL","JFSSL"],"range":["#1f77b4","#ff7f0e","#2ca02c","#d62728","#9467bd","#8c564b","#e377c2"]},"legend":{"title":null,"orient":"top-right"}},
"strokeDash":{"field":"s","type":"nominal","scale":{"domain":["GIN","CCA","LCSF","LGCFL","ml-CCA","AUSL","JFSSL"],"range":[[1,0],[4,2],[1.2,1.8],[5,2,1.5,2],[5,2,1.5,2],[1.2,1.8],[1.2,1.8]]},"legend":{"title":null,"orient":"top-right"}}}},
{"mark":{"type":"point","filled":true,"opacity":1,"size":40,"strokeWidth":0},"encoding":{
"x":{"field":"r","type":"quantitative"},
"y":{"field":"p","type":"quantitative"},
"fill":{"field":"s","type":"nominal","scale":{"domain":["JFSSL","AUSL","ml-CCA","LGCFL","LCSF","CCA","GIN"],"range":["#e377c2","#8c564b","#9467bd","#d62728","#2ca02c","#ff7f0e","#1f77b4"]},"legend":null},
"shape":{"field":"s","type":"nominal","scale":{"domain":["JFSSL","AUSL","ml-CCA","LGCFL","LCSF","CCA","GIN"],"range":["M-0.9,-0.9L0.9,-0.9L0.9,0.9L-0.9,0.9Z","M0,-0.9L0.21,-0.3L0.85,-0.28L0.34,0.11L0.53,0.73L0,0.36L-0.53,0.73L-0.34,0.11L-0.85,-0.28L-0.21,-0.3Z","M0.75,0L-0.6,0.65L-0.6,-0.65Z","M-0.35,0A0.35,0.35,0,1,1,0.35,0A0.35,0.35,0,1,1,-0.35,0Z","M-0.42,0A0.42,0.42,0,1,1,0.42,0A0.42,0.42,0,1,1,-0.42,0Z","M0,0L0.001,0Z","M0,-1L0.5,0L0,1L-0.5,0Z"]},"legend":null}}}
]},
{"data":{"name":"d"},"width":196,"height":181,"title":"(d) NUS-WIDE: Image query",
"layer":[
{"mark":{"type":"line","strokeWidth":1.3},"encoding":{
"x":{"field":"r","type":"quantitative","scale":{"domain":[-0.05,1.05],"nice":false,"zero":false},"axis":{"values":[0,0.2,0.4,0.6,0.8,1],"format":".1f","title":"Recall"}},
"y":{"field":"p","type":"quantitative","scale":{"domain":[0.229,0.731],"nice":false,"zero":false},"axis":{"values":[0.3,0.4,0.5,0.6,0.7],"format":".1f","title":"Precision"}},
"color":{"field":"s","type":"nominal","scale":{"domain":["GIN","CCA","LCSF","LGCFL","ml-CCA","AUSL","JFSSL"],"range":["#1f77b4","#ff7f0e","#2ca02c","#d62728","#9467bd","#8c564b","#e377c2"]},"legend":{"title":null,"orient":"top-right"}},
"strokeDash":{"field":"s","type":"nominal","scale":{"domain":["GIN","CCA","LCSF","LGCFL","ml-CCA","AUSL","JFSSL"],"range":[[1,0],[4,2],[1.2,1.8],[5,2,1.5,2],[5,2,1.5,2],[1.2,1.8],[1.2,1.8]]},"legend":{"title":null,"orient":"top-right"}}}},
{"mark":{"type":"point","filled":true,"opacity":1,"size":40,"strokeWidth":0},"encoding":{
"x":{"field":"r","type":"quantitative"},
"y":{"field":"p","type":"quantitative"},
"fill":{"field":"s","type":"nominal","scale":{"domain":["JFSSL","AUSL","ml-CCA","LGCFL","LCSF","CCA","GIN"],"range":["#e377c2","#8c564b","#9467bd","#d62728","#2ca02c","#ff7f0e","#1f77b4"]},"legend":null},
"shape":{"field":"s","type":"nominal","scale":{"domain":["JFSSL","AUSL","ml-CCA","LGCFL","LCSF","CCA","GIN"],"range":["M-0.9,-0.9L0.9,-0.9L0.9,0.9L-0.9,0.9Z","M0,-0.9L0.21,-0.3L0.85,-0.28L0.34,0.11L0.53,0.73L0,0.36L-0.53,0.73L-0.34,0.11L-0.85,-0.28L-0.21,-0.3Z","M0.75,0L-0.6,0.65L-0.6,-0.65Z","M-0.35,0A0.35,0.35,0,1,1,0.35,0A0.35,0.35,0,1,1,-0.35,0Z","M-0.42,0A0.42,0.42,0,1,1,0.42,0A0.42,0.42,0,1,1,-0.42,0Z","M0,0L0.001,0Z","M0,-1L0.5,0L0,1L-0.5,0Z"]},"legend":null}}}
]},
{"data":{"name":"e"},"width":196,"height":178,"title":"(e) Pascal: Text query",
"layer":[
{"mark":{"type":"line","strokeWidth":1.3},"encoding":{
"x":{"field":"r","type":"quantitative","scale":{"domain":[-0.05,1.05],"nice":false,"zero":false},"axis":{"values":[0,0.2,0.4,0.6,0.8,1],"format":".1f","title":"Recall"}},
"y":{"field":"p","type":"quantitative","scale":{"domain":[0.048,0.757],"nice":false,"zero":false},"axis":{"values":[0.1,0.2,0.3,0.4,0.5,0.6,0.7],"format":".1f","title":"Precision"}},
"color":{"field":"s","type":"nominal","scale":{"domain":["GIN","PLS","BLM","CCA","CDFE","CMMFA","CMLDA","CCA-3V","LCFS","JFSSL"],"range":["#1f77b4","#ff7f0e","#2ca02c","#d62728","#9467bd","#8c564b","#e377c2","#7f7f7f","#bcbd22","#17becf"]},"legend":{"title":null,"orient":"top-right"}},
"strokeDash":{"field":"s","type":"nominal","scale":{"domain":["GIN","PLS","BLM","CCA","CDFE","CMMFA","CMLDA","CCA-3V","LCFS","JFSSL"],"range":[[1,0],[4,2],[4,2],[1.2,1.8],[5,2,1.5,2],[5,2,1.5,2],[1.2,1.8],[1.2,1.8],[1.2,1.8],[1.2,1.8]]},"legend":{"title":null,"orient":"top-right"}}}},
{"mark":{"type":"point","filled":true,"opacity":1,"size":40,"strokeWidth":0},"encoding":{
"x":{"field":"r","type":"quantitative"},
"y":{"field":"p","type":"quantitative"},
"fill":{"field":"s","type":"nominal","scale":{"domain":["JFSSL","LCFS","CCA-3V","CMLDA","CMMFA","CDFE","CCA","BLM","PLS","GIN"],"range":["#17becf","#bcbd22","#7f7f7f","#e377c2","#8c564b","#9467bd","#d62728","#2ca02c","#ff7f0e","#1f77b4"]},"legend":null},
"shape":{"field":"s","type":"nominal","scale":{"domain":["JFSSL","LCFS","CCA-3V","CMLDA","CMMFA","CDFE","CCA","BLM","PLS","GIN"],"range":["M0,-0.82L0.71,-0.41L0.71,0.41L0,0.82L-0.71,0.41L-0.71,-0.41Z","M-0.75,0A0.75,0.75,0,1,1,0.75,0A0.75,0.75,0,1,1,-0.75,0Z","M-0.75,-0.75L0.75,-0.75L0.75,0.75L-0.75,0.75Z","M0,-0.8L0.19,-0.27L0.76,-0.25L0.3,0.1L0.47,0.65L0,0.32L-0.47,0.65L-0.3,0.1L-0.76,-0.25L-0.19,-0.27Z","M-0.7,0L0.55,-0.6L0.55,0.6Z","M0,0L0.001,0Z","M-0.42,0A0.42,0.42,0,1,1,0.42,0A0.42,0.42,0,1,1,-0.42,0Z","M0,0L0.001,0Z","M0,0L0.001,0Z","M0,-1L0.5,0L0,1L-0.5,0Z"]},"legend":null}}}
]},
{"data":{"name":"f"},"width":196,"height":178,"title":"(f) Pascal: Image query",
"layer":[
{"mark":{"type":"line","strokeWidth":1.3},"encoding":{
"x":{"field":"r","type":"quantitative","scale":{"domain":[-0.05,1.05],"nice":false,"zero":false},"axis":{"values":[0,0.2,0.4,0.6,0.8,1],"format":".1f","title":"Recall"}},
"y":{"field":"p","type":"quantitative","scale":{"domain":[0.078,0.446],"nice":false,"zero":false},"axis":{"values":[0.1,0.15,0.2,0.25,0.3,0.35,0.4],"format":".2f","title":"Precision"}},
"color":{"field":"s","type":"nominal","scale":{"domain":["GIN","PLS","BLM","CCA","CDFE","CMMFA","CMLDA","CCA-3V","LCFS","JFSSL"],"range":["#1f77b4","#ff7f0e","#2ca02c","#d62728","#9467bd","#8c564b","#e377c2","#7f7f7f","#bcbd22","#17becf"]},"legend":{"title":null,"orient":"bottom-left"}},
"strokeDash":{"field":"s","type":"nominal","scale":{"domain":["GIN","PLS","BLM","CCA","CDFE","CMMFA","CMLDA","CCA-3V","LCFS","JFSSL"],"range":[[1,0],[4,2],[4,2],[1.2,1.8],[5,2,1.5,2],[5,2,1.5,2],[1.2,1.8],[1.2,1.8],[1.2,1.8],[1.2,1.8]]},"legend":{"title":null,"orient":"bottom-left"}}}},
{"mark":{"type":"point","filled":true,"opacity":1,"size":40,"strokeWidth":0},"encoding":{
"x":{"field":"r","type":"quantitative"},
"y":{"field":"p","type":"quantitative"},
"fill":{"field":"s","type":"nominal","scale":{"domain":["JFSSL","LCFS","CCA-3V","CMLDA","CMMFA","CDFE","CCA","BLM","PLS","GIN"],"range":["#17becf","#bcbd22","#7f7f7f","#e377c2","#8c564b","#9467bd","#d62728","#2ca02c","#ff7f0e","#1f77b4"]},"legend":null},
"shape":{"field":"s","type":"nominal","scale":{"domain":["JFSSL","LCFS","CCA-3V","CMLDA","CMMFA","CDFE","CCA","BLM","PLS","GIN"],"range":["M0,-0.82L0.71,-0.41L0.71,0.41L0,0.82L-0.71,0.41L-0.71,-0.41Z","M-0.75,0A0.75,0.75,0,1,1,0.75,0A0.75,0.75,0,1,1,-0.75,0Z","M-0.75,-0.75L0.75,-0.75L0.75,0.75L-0.75,0.75Z","M0,-0.8L0.19,-0.27L0.76,-0.25L0.3,0.1L0.47,0.65L0,0.32L-0.47,0.65L-0.3,0.1L-0.76,-0.25L-0.19,-0.27Z","M-0.7,0L0.55,-0.6L0.55,0.6Z","M0,0L0.001,0Z","M-0.42,0A0.42,0.42,0,1,1,0.42,0A0.42,0.42,0,1,1,-0.42,0Z","M0,0L0.001,0Z","M0,0L0.001,0Z","M0,-1L0.5,0L0,1L-0.5,0Z"]},"legend":null}}}
]},
{"data":{"name":"g"},"width":196,"height":178,"title":"(g) TVGraz: Text query",
"layer":[
{"mark":{"type":"line","strokeWidth":1.3},"encoding":{
"x":{"field":"r","type":"quantitative","scale":{"domain":[-0.05,1.05],"nice":false,"zero":false},"axis":{"values":[0,0.2,0.4,0.6,0.8,1],"format":".1f","title":"Recall"}},
"y":{"field":"p","type":"quantitative","scale":{"domain":[0.077,0.987],"nice":false,"zero":false},"axis":{"values":[0.2,0.4,0.6,0.8],"format":".1f","title":"Precision"}},
"color":{"field":"s","type":"nominal","scale":{"domain":["GIN","SCM","SM","CM","TTI"],"range":["#1f77b4","#ff7f0e","#2ca02c","#d62728","#9467bd"]},"legend":{"title":null,"orient":"top-right"}},
"strokeDash":{"field":"s","type":"nominal","scale":{"domain":["GIN","SCM","SM","CM","TTI"],"range":[[1,0],[1.2,1.8],[5,2,1.5,2],[5,2,1.5,2],[1.2,1.8]]},"legend":{"title":null,"orient":"top-right"}}}},
{"mark":{"type":"point","filled":true,"opacity":1,"size":40,"strokeWidth":0},"encoding":{
"x":{"field":"r","type":"quantitative"},
"y":{"field":"p","type":"quantitative"},
"fill":{"field":"s","type":"nominal","scale":{"domain":["TTI","CM","SM","SCM","GIN"],"range":["#9467bd","#d62728","#2ca02c","#ff7f0e","#1f77b4"]},"legend":null},
"shape":{"field":"s","type":"nominal","scale":{"domain":["TTI","CM","SM","SCM","GIN"],"range":["M0,-0.8L0.19,-0.27L0.76,-0.25L0.3,0.1L0.47,0.65L0,0.32L-0.47,0.65L-0.3,0.1L-0.76,-0.25L-0.19,-0.27Z","M-0.42,0A0.42,0.42,0,1,1,0.42,0A0.42,0.42,0,1,1,-0.42,0Z","M0,0L0.001,0Z","M-0.45,-0.45L0.45,-0.45L0.45,0.45L-0.45,0.45Z","M0,-1L0.5,0L0,1L-0.5,0Z"]},"legend":null}}}
]},
{"data":{"name":"h"},"width":196,"height":178,"title":"(h) TVGraz: Image query",
"layer":[
{"mark":{"type":"line","strokeWidth":1.3},"encoding":{
"x":{"field":"r","type":"quantitative","scale":{"domain":[-0.05,1.05],"nice":false,"zero":false},"axis":{"values":[0,0.2,0.4,0.6,0.8,1],"format":".1f","title":"Recall"}},
"y":{"field":"p","type":"quantitative","scale":{"domain":[0.079,0.863],"nice":false,"zero":false},"axis":{"values":[0.1,0.2,0.3,0.4,0.5,0.6,0.7,0.8],"format":".1f","title":"Precision"}},
"color":{"field":"s","type":"nominal","scale":{"domain":["GIN","SCM","SM","CM","TTI"],"range":["#1f77b4","#ff7f0e","#2ca02c","#d62728","#9467bd"]},"legend":{"title":null,"orient":"none","legendX":3,"legendY":60}},
"strokeDash":{"field":"s","type":"nominal","scale":{"domain":["GIN","SCM","SM","CM","TTI"],"range":[[1,0],[1.2,1.8],[5,2,1.5,2],[5,2,1.5,2],[1.2,1.8]]},"legend":{"title":null,"orient":"none","legendX":3,"legendY":60}}}},
{"mark":{"type":"point","filled":true,"opacity":1,"size":40,"strokeWidth":0},"encoding":{
"x":{"field":"r","type":"quantitative"},
"y":{"field":"p","type":"quantitative"},
"fill":{"field":"s","type":"nominal","scale":{"domain":["TTI","CM","SM","SCM","GIN"],"range":["#9467bd","#d62728","#2ca02c","#ff7f0e","#1f77b4"]},"legend":null},
"shape":{"field":"s","type":"nominal","scale":{"domain":["TTI","CM","SM","SCM","GIN"],"range":["M0,-0.8L0.19,-0.27L0.76,-0.25L0.3,0.1L0.47,0.65L0,0.32L-0.47,0.65L-0.3,0.1L-0.76,-0.25L-0.19,-0.27Z","M-0.42,0A0.42,0.42,0,1,1,0.42,0A0.42,0.42,0,1,1,-0.42,0Z","M0,0L0.001,0Z","M-0.45,-0.45L0.45,-0.45L0.45,0.45L-0.45,0.45Z","M0,-1L0.5,0L0,1L-0.5,0Z"]},"legend":null}}}
]}
],
"config":{
"view":{"stroke":"#444","strokeWidth":0.8},
"axis":{"grid":false,"domain":false,"ticks":true,"tickSize":3,"tickColor":"#222","labelFont":"DejaVu Sans","labelFontSize":6,"labelColor":"#222","labelPadding":1.5,"titleFont":"DejaVu Sans","titleFontSize":6,"titleFontWeight":"normal","titleColor":"#222","titlePadding":2},
"legend":{"symbolType":"stroke","symbolSize":110,"symbolStrokeWidth":1.4,"labelFont":"DejaVu Sans","labelFontSize":6.2,"labelColor":"#222","rowPadding":0,"padding":3,"strokeColor":"#ccc","fillColor":"white","cornerRadius":2,"labelOffset":5,"offset":3},
"title":{"orient":"bottom","anchor":"middle","frame":"bounds","font":"Liberation Serif","fontSize":18,"fontWeight":"normal","color":"black","offset":5}
}
}
